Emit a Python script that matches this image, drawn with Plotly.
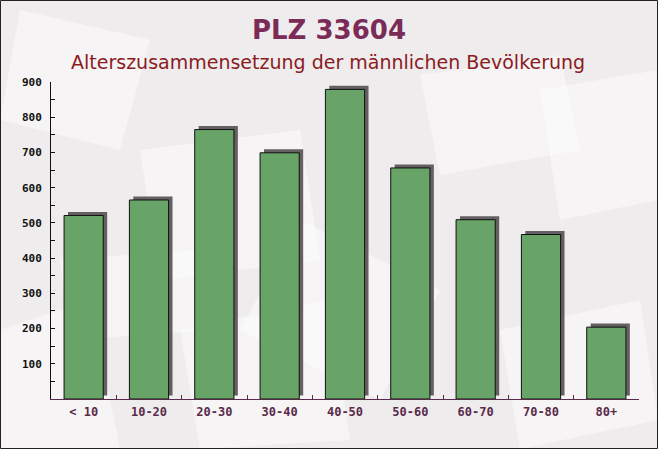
import plotly.graph_objects as go

categories = ["< 10", "10-20", "20-30", "30-40", "40-50", "50-60", "60-70", "70-80", "80+"]
values = [521, 565, 765, 699, 879, 656, 509, 467, 204]
y_tick_values = [100, 200, 300, 400, 500, 600, 700, 800, 900]
y_tick_labels = ["100", "200", "300", "400", "500", "600", "700", "800", "900"]
y_minor_values = [50, 150, 250, 350, 450, 550, 650, 750, 850]

W, H = 658, 449
L, R, T, B = 51, 19, 82, 50
pw, ph = W - L - R, H - T - B

fig = go.Figure()

# shadow
fig.add_trace(go.Bar(
    x=categories, y=values, base=[10] * len(values),
    width=0.6, offset=-0.3 + 0.06,
    marker=dict(color="rgba(75,70,73,0.85)", line=dict(width=0)),
    hoverinfo="skip", showlegend=False,
))
# main bars
fig.add_trace(go.Bar(
    x=categories, y=values,
    width=0.6, offset=-0.3,
    marker=dict(color="rgb(104,163,104)", line=dict(color="#111111", width=1)),
    showlegend=False,
))

def px_x(p):
    return (p - L) / pw

def px_y(p):
    return (H - B - p) / ph

shapes = []
# faint decorative background panels (envelopes)
panels = [
    [(20, 10), (150, 40), (120, 150), (0, 120)],
    [(420, 75), (560, 55), (580, 150), (440, 175)],
    [(140, 150), (300, 130), (320, 260), (160, 280)],
    [(300, 220), (440, 290), (380, 400), (240, 330)],
    [(540, 90), (658, 70), (658, 200), (560, 220)],
    [(0, 330), (90, 300), (120, 449), (0, 449)],
    [(180, 330), (330, 300), (350, 440), (200, 449)],
    [(500, 330), (640, 300), (658, 420), (520, 449)],
    [(60, 260), (200, 250), (210, 330), (70, 340)],
]
for poly in panels:
    path = "M " + " L ".join(f"{px_x(x):.4f},{px_y(y):.4f}" for x, y in poly) + " Z"
    shapes.append(dict(type="path", xref="paper", yref="paper", path=path,
                       fillcolor="rgba(255,255,255,0.45)", line=dict(width=0), layer="below"))
# outer frame
shapes.append(dict(type="rect", xref="paper", yref="paper",
                   x0=px_x(0.5), x1=px_x(W - 0.5), y0=px_y(H - 0.5), y1=px_y(0.5),
                   line=dict(color="#222222", width=1), fillcolor="rgba(0,0,0,0)", layer="above"))

fig.update_layout(
    width=W, height=H,
    margin=dict(l=L, r=R, t=T, b=B),
    paper_bgcolor="#efeced",
    plot_bgcolor="rgba(0,0,0,0)",
    barmode="overlay",
    shapes=shapes,
    annotations=[
        dict(text="<b>PLZ 33604</b>", xref="paper", yref="paper",
             x=px_x(W / 2), y=px_y(30), xanchor="center", yanchor="middle", showarrow=False,
             font=dict(family="DejaVu Sans", size=26, color="#7b2b57")),
        dict(text="Alterszusammensetzung der männlichen Bevölkerung", xref="paper", yref="paper",
             x=px_x(W / 2 - 1), y=px_y(62), xanchor="center", yanchor="middle", showarrow=False,
             font=dict(family="DejaVu Sans", size=19, color="#8b1b1f")),
    ],
    xaxis=dict(
        type="category", range=[-0.5, 8.5],
        showline=True, linecolor="#5a2a4a", linewidth=1,
        ticks="inside", tickson="boundaries", ticklen=4, tickcolor="#5a2a4a",
        tickfont=dict(family="DejaVu Sans Mono", size=12, color="#5a2a4a", weight="bold"),
        ticklabelstandoff=2,
        showgrid=False, zeroline=False, fixedrange=True,
    ),
    yaxis=dict(
        range=[0, 900], showline=True, linecolor="#111111", linewidth=1,
        tickmode="array", tickvals=y_tick_values, ticktext=y_tick_labels,
        ticks="inside", ticklen=4, tickcolor="#111111",
        minor=dict(tickmode="array", tickvals=y_minor_values, ticks="inside", ticklen=4, tickcolor="#111111"),
        tickfont=dict(family="DejaVu Sans Mono", size=11, color="#111111", weight="bold"),
        ticklabelstandoff=6,
        showgrid=False, zeroline=False, fixedrange=True,
    ),
)

fig.write_html("out.html", config={"displayModeBar": False},
               post_script="document.body.style.margin='0';")
